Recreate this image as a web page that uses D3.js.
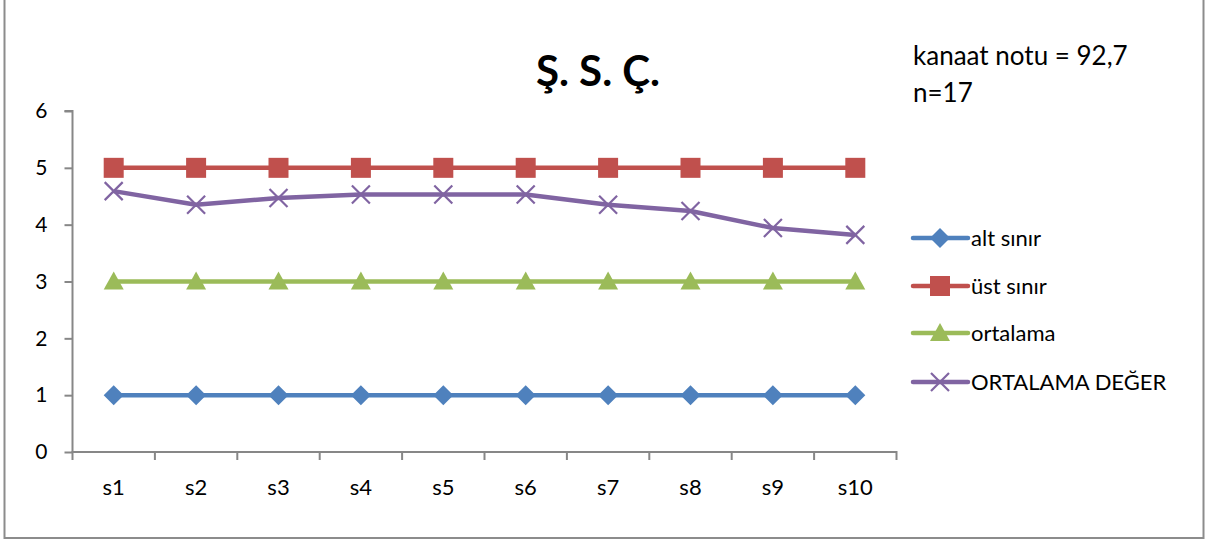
<!DOCTYPE html>
<html>
<head>
<meta charset="utf-8">
<script src="https://cdn.jsdelivr.net/npm/d3@7"></script>
<style>
  body { margin: 0; background: #fff; }
  text { font-family: "Lato", "Noto Sans", sans-serif; fill: #000; }
</style>
</head>
<body>
<div class="chart"></div>
<script>
// chart data
var categories = ["s1", "s2", "s3", "s4", "s5", "s6", "s7", "s8", "s9", "s10"];
var altSinir = [1, 1, 1, 1, 1, 1, 1, 1, 1, 1];
var ustSinir = [5, 5, 5, 5, 5, 5, 5, 5, 5, 5];
var ortalama = [3, 3, 3, 3, 3, 3, 3, 3, 3, 3];
var ortalamaDeger = [4.59, 4.35, 4.47, 4.53, 4.53, 4.53, 4.35, 4.24, 3.94, 3.82];
var yTicks = [0, 1, 2, 3, 4, 5, 6];
var seriesNames = ["alt sınır", "üst sınır", "ortalama", "ORTALAMA DEĞER"];

var svgWidth = 1206;
var svgHeight = 542;

var margin = { top: 111, left: 72.5, right: 309.5, bottom: 90 };
var width = 896.5 - margin.left;
var height = 452 - margin.top;

var svg = d3.select(".chart")
  .append("svg")
  .attr("width", svgWidth)
  .attr("height", svgHeight);

// outer frame (top edge is cut off in the picture)
svg.append("rect")
  .attr("x", 4.5)
  .attr("y", -10)
  .attr("width", 1199)
  .attr("height", 548)
  .attr("fill", "none")
  .attr("stroke", "#8c8c8c")
  .attr("stroke-width", 2);

var chartGroup = svg.append("g")
  .attr("transform", `translate(${margin.left}, ${margin.top})`);

var xScale = d3.scaleBand()
  .domain(categories)
  .range([0, width]);

var yScale = d3.scaleLinear()
  .domain([0, 6])
  .range([height, 0]);

var axisColor = "#878787";

// y axis
var leftAxis = d3.axisLeft(yScale)
  .tickValues(yTicks)
  .tickFormat(d3.format("d"))
  .tickSize(8)
  .tickPadding(17);

var yAxisG = chartGroup.append("g").call(leftAxis);
yAxisG.select(".domain").attr("stroke", axisColor).attr("stroke-width", 2)
  .attr("d", `M0,${height}V0H-8`);
yAxisG.selectAll(".tick line").attr("stroke", axisColor).attr("stroke-width", 2);
yAxisG.selectAll(".tick text")
  .style("font-family", "Lato, 'Noto Sans', sans-serif")
  .style("font-size", "21px")
  .attr("fill", "#000");

// x axis: ticks sit on band boundaries
var bottomAxis = d3.axisBottom(xScale).tickSize(0).tickPadding(27);
var xAxisG = chartGroup.append("g")
  .attr("transform", `translate(0, ${height})`)
  .call(bottomAxis);
xAxisG.select(".domain").attr("stroke", axisColor).attr("stroke-width", 2)
  .attr("d", `M0,8V0H${width}V8`);
xAxisG.selectAll(".tick text")
  .style("font-family", "Lato, 'Noto Sans', sans-serif")
  .style("font-size", "22px")
  .attr("fill", "#000");

xAxisG.selectAll(".boundary")
  .data(categories.slice(1))
  .enter()
  .append("line")
  .attr("x1", d => xScale(d))
  .attr("x2", d => xScale(d))
  .attr("y1", 0)
  .attr("y2", 8)
  .attr("stroke", axisColor)
  .attr("stroke-width", 2);

var cx = d => xScale(d) + xScale.bandwidth() / 2;

var series = [
  { name: seriesNames[0], values: altSinir, color: "#4F81BD", marker: "diamond" },
  { name: seriesNames[1], values: ustSinir, color: "#C0504D", marker: "square" },
  { name: seriesNames[2], values: ortalama, color: "#9BBB59", marker: "triangle" },
  { name: seriesNames[3], values: ortalamaDeger, color: "#8064A2", marker: "cross" }
];

var line = d3.line()
  .x((d, i) => cx(categories[i]))
  .y(d => yScale(d));

function drawMarker(g, type, x, y, color) {
  if (type === "diamond") {
    g.append("path")
      .attr("d", `M${x},${y - 10}L${x + 10},${y}L${x},${y + 10}L${x - 10},${y}Z`)
      .attr("fill", color);
  } else if (type === "square") {
    g.append("rect")
      .attr("x", x - 10).attr("y", y - 10)
      .attr("width", 20).attr("height", 20)
      .attr("fill", color);
  } else if (type === "triangle") {
    g.append("path")
      .attr("d", `M${x},${y - 10}L${x + 10},${y + 8}L${x - 10},${y + 8}Z`)
      .attr("fill", color);
  } else {
    g.append("path")
      .attr("d", `M${x - 9},${y - 9}L${x + 9},${y + 9}M${x + 9},${y - 9}L${x - 9},${y + 9}`)
      .attr("stroke", color)
      .attr("stroke-width", 2.2)
      .attr("fill", "none");
  }
}

series.forEach(function(s) {
  chartGroup.append("path")
    .datum(s.values)
    .attr("d", line)
    .attr("fill", "none")
    .attr("stroke", s.color)
    .attr("stroke-width", 4.5)
    .attr("stroke-linejoin", "round");

  var mg = chartGroup.append("g");
  s.values.forEach(function(v, i) {
    drawMarker(mg, s.marker, cx(categories[i]), yScale(v), s.color);
  });
});

// title
svg.append("text")
  .attr("x", 598)
  .attr("y", 86)
  .attr("text-anchor", "middle")
  .style("font-size", "42px")
  .style("font-weight", "bold")
  .text("Ş. S. Ç.");

// note
svg.append("text").attr("x", 913).attr("y", 65).style("font-size", "26px").text("kanaat notu = 92,7");
svg.append("text").attr("x", 913).attr("y", 102).style("font-size", "26px").text("n=17");

// legend
var legendY = [238, 286, 333, 382];
series.forEach(function(s, i) {
  var lg = svg.append("g");
  lg.append("line")
    .attr("x1", 913).attr("x2", 968)
    .attr("y1", legendY[i]).attr("y2", legendY[i])
    .attr("stroke", s.color)
    .attr("stroke-width", 4.5)
    .attr("stroke-linecap", "round");
  drawMarker(lg, s.marker, 940, legendY[i], s.color);
  lg.append("text")
    .attr("x", 971)
    .attr("y", legendY[i] + 8)
    .style("font-size", "22px")
    .text(s.name);
});
</script>
</body>
</html>
